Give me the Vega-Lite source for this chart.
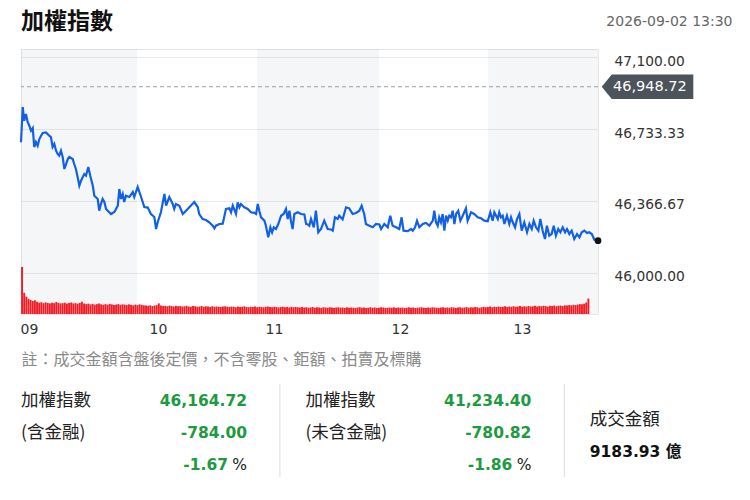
{
  "$schema": "https://vega.github.io/schema/vega-lite/v6.json",
  "background": "#ffffff",
  "padding": {"left": 16, "top": 10, "right": 0, "bottom": 0},
  "bounds": "flush",
  "spacing": 70,
  "config": {"font": "Noto Sans CJK TC", "view": {"stroke": null}},
  "datasets": {
    "bands": [{"t": 0, "t2": 54.3}, {"t": 110.4, "t2": 167.5}, {"t": 218.6, "t2": 270}],
    "prev": [{"t": 270, "v": 46948.72}],
    "close": [{"t": 270, "v": 46164.72}],
    "price": [
      {"t":0,"v":46665.6},{"t":0.8,"v":46845.4},{"t":1.5,"v":46775.6},{"t":2.3,"v":46809.7},{"t":3.1,"v":46769.0},{"t":3.9,"v":46750.1},{"t":4.7,"v":46724.7},{"t":5.5,"v":46738.4},{"t":6.2,"v":46641.6},{"t":7.0,"v":46667.1},{"t":7.8,"v":46648.2},{"t":8.6,"v":46682.4},{"t":9.4,"v":46699.2},{"t":10.2,"v":46712.9},{"t":11.7,"v":46716.3},{"t":13.2,"v":46699.2},{"t":14.0,"v":46692.6},{"t":14.8,"v":46641.6},{"t":15.6,"v":46656.9},{"t":16.4,"v":46622.8},{"t":17.2,"v":46606.0},{"t":17.9,"v":46597.5},{"t":18.7,"v":46622.8},{"t":19.5,"v":46590.7},{"t":20.3,"v":46529.6},{"t":21.1,"v":46555.0},{"t":21.9,"v":46580.5},{"t":22.6,"v":46590.7},{"t":24.2,"v":46580.5},{"t":24.9,"v":46555.0},{"t":25.7,"v":46529.6},{"t":26.5,"v":46488.8},{"t":27.3,"v":46444.5},{"t":28.1,"v":46470.0},{"t":28.9,"v":46488.8},{"t":29.6,"v":46504.1},{"t":30.4,"v":46495.5},{"t":31.5,"v":46539.8},{"t":32.4,"v":46495.5},{"t":33.6,"v":46444.5},{"t":34.3,"v":46393.6},{"t":35.9,"v":46376.8},{"t":36.6,"v":46317.2},{"t":37.4,"v":46351.3},{"t":38.2,"v":46376.8},{"t":39.0,"v":46361.5},{"t":39.8,"v":46325.9},{"t":40.6,"v":46317.2},{"t":42.1,"v":46300.4},{"t":43.7,"v":46310.6},{"t":45.3,"v":46342.7},{"t":46.0,"v":46427.7},{"t":46.8,"v":46376.8},{"t":47.6,"v":46402.3},{"t":48.3,"v":46361.5},{"t":49.1,"v":46393.6},{"t":50.7,"v":46387.0},{"t":52.3,"v":46412.4},{"t":53.0,"v":46387.0},{"t":54.6,"v":46437.9},{"t":55.4,"v":46412.4},{"t":56.2,"v":46387.0},{"t":57.7,"v":46336.0},{"t":59.3,"v":46333.2},{"t":60.8,"v":46300.4},{"t":62.4,"v":46285.1},{"t":63.2,"v":46224.0},{"t":64.0,"v":46259.7},{"t":65.5,"v":46310.6},{"t":67.1,"v":46402.3},{"t":67.9,"v":46342.7},{"t":69.4,"v":46387.0},{"t":71.0,"v":46351.3},{"t":71.7,"v":46325.9},{"t":72.5,"v":46351.3},{"t":74.1,"v":46342.7},{"t":75.7,"v":46300.4},{"t":78.0,"v":46325.9},{"t":81.1,"v":46361.5},{"t":82.7,"v":46336.0},{"t":83.4,"v":46300.4},{"t":85.0,"v":46274.9},{"t":86.6,"v":46269.8},{"t":88.1,"v":46258.1},{"t":89.7,"v":46240.8},{"t":90.5,"v":46227.6},{"t":91.2,"v":46240.8},{"t":92.8,"v":46249.5},{"t":94.4,"v":46251.2},{"t":95.9,"v":46325.9},{"t":97.5,"v":46329.4},{"t":98.3,"v":46309.1},{"t":99.1,"v":46342.7},{"t":100.6,"v":46300.4},{"t":101.4,"v":46360.0},{"t":102.2,"v":46334.5},{"t":102.9,"v":46351.3},{"t":104.5,"v":46334.5},{"t":106.1,"v":46325.9},{"t":107.6,"v":46309.1},{"t":109.2,"v":46306.3},{"t":110.0,"v":46300.4},{"t":110.8,"v":46351.3},{"t":111.5,"v":46317.2},{"t":112.3,"v":46283.6},{"t":113.9,"v":46266.3},{"t":114.6,"v":46240.8},{"t":115.7,"v":46181.7},{"t":116.7,"v":46232.7},{"t":117.5,"v":46207.2},{"t":118.3,"v":46232.7},{"t":119.3,"v":46224.0},{"t":120.4,"v":46249.5},{"t":121.7,"v":46291.7},{"t":122.9,"v":46300.4},{"t":124.0,"v":46325.9},{"t":124.8,"v":46275.0},{"t":125.6,"v":46317.2},{"t":126.3,"v":46266.3},{"t":127.1,"v":46224.0},{"t":127.9,"v":46300.4},{"t":129.5,"v":46309.1},{"t":131.0,"v":46300.4},{"t":132.6,"v":46297.8},{"t":133.4,"v":46249.5},{"t":134.2,"v":46246.9},{"t":134.9,"v":46240.8},{"t":135.7,"v":46275.0},{"t":137.0,"v":46232.7},{"t":138.0,"v":46317.2},{"t":139.1,"v":46207.2},{"t":140.4,"v":46224.0},{"t":141.9,"v":46266.3},{"t":143.5,"v":46224.0},{"t":145.1,"v":46221.4},{"t":145.9,"v":46215.4},{"t":146.9,"v":46283.6},{"t":148.2,"v":46275.0},{"t":148.9,"v":46291.7},{"t":150.5,"v":46273.2},{"t":152.1,"v":46334.5},{"t":153.6,"v":46329.4},{"t":155.2,"v":46300.4},{"t":156.8,"v":46305.5},{"t":158.3,"v":46317.2},{"t":159.4,"v":46342.7},{"t":160.6,"v":46300.4},{"t":161.4,"v":46249.5},{"t":163.0,"v":46240.8},{"t":164.6,"v":46232.7},{"t":166.1,"v":46249.5},{"t":167.7,"v":46246.9},{"t":168.5,"v":46224.0},{"t":170.0,"v":46249.5},{"t":171.6,"v":46232.7},{"t":172.8,"v":46291.7},{"t":173.9,"v":46240.8},{"t":175.5,"v":46232.7},{"t":177.0,"v":46224.0},{"t":178.1,"v":46283.6},{"t":179.0,"v":46215.4},{"t":181.0,"v":46213.0},{"t":182.5,"v":46224.0},{"t":183.3,"v":46215.4},{"t":184.4,"v":46232.7},{"t":185.3,"v":46266.3},{"t":186.4,"v":46232.7},{"t":188.0,"v":46249.5},{"t":189.5,"v":46254.6},{"t":191.1,"v":46240.8},{"t":192.7,"v":46266.3},{"t":193.4,"v":46317.2},{"t":194.2,"v":46258.1},{"t":195.0,"v":46240.8},{"t":195.7,"v":46283.6},{"t":196.5,"v":46258.1},{"t":197.3,"v":46300.4},{"t":198.1,"v":46215.4},{"t":198.9,"v":46291.7},{"t":199.7,"v":46266.3},{"t":200.4,"v":46291.7},{"t":201.2,"v":46283.6},{"t":202.0,"v":46317.2},{"t":202.8,"v":46249.5},{"t":203.6,"v":46300.4},{"t":204.6,"v":46317.2},{"t":205.6,"v":46266.3},{"t":206.7,"v":46291.7},{"t":208.2,"v":46329.4},{"t":209.0,"v":46266.3},{"t":210.6,"v":46309.1},{"t":212.1,"v":46300.4},{"t":213.7,"v":46283.6},{"t":215.3,"v":46278.5},{"t":216.8,"v":46266.3},{"t":218.4,"v":46263.8},{"t":219.6,"v":46309.1},{"t":220.7,"v":46266.3},{"t":221.5,"v":46309.1},{"t":223.1,"v":46275.0},{"t":223.8,"v":46309.1},{"t":224.6,"v":46283.6},{"t":225.4,"v":46291.7},{"t":226.2,"v":46249.5},{"t":227.4,"v":46291.7},{"t":228.5,"v":46249.5},{"t":229.3,"v":46283.6},{"t":230.1,"v":46258.1},{"t":231.2,"v":46232.7},{"t":232.1,"v":46275.0},{"t":233.2,"v":46300.4},{"t":234.3,"v":46215.4},{"t":235.5,"v":46258.1},{"t":236.8,"v":46207.2},{"t":237.9,"v":46249.5},{"t":239.0,"v":46224.0},{"t":239.9,"v":46266.3},{"t":241.0,"v":46232.7},{"t":242.1,"v":46215.4},{"t":243.0,"v":46275.0},{"t":244.1,"v":46215.4},{"t":245.2,"v":46173.1},{"t":246.1,"v":46240.8},{"t":247.2,"v":46189.9},{"t":248.3,"v":46198.5},{"t":249.3,"v":46240.8},{"t":250.3,"v":46189.9},{"t":251.4,"v":46224.0},{"t":252.4,"v":46207.2},{"t":253.5,"v":46232.7},{"t":254.6,"v":46207.2},{"t":255.5,"v":46224.0},{"t":256.6,"v":46198.5},{"t":257.7,"v":46215.4},{"t":258.9,"v":46173.1},{"t":260.2,"v":46198.5},{"t":261.3,"v":46181.7},{"t":262.4,"v":46207.2},{"t":263.6,"v":46215.4},{"t":264.9,"v":46203.6},{"t":265.9,"v":46207.2},{"t":267.1,"v":46198.5},{"t":268.3,"v":46169.5},{"t":270,"v":46164.72}
    ],
    "vol": [
      {"t":0,"q":195},{"t":1,"q":88},{"t":2,"q":72},{"t":3,"q":63},{"t":4,"q":58},{"t":5,"q":54},{"t":6,"q":57},{"t":7,"q":51},{"t":8,"q":47},{"t":9,"q":49},{"t":10,"q":45},{"t":11,"q":48},{"t":12,"q":46},{"t":13,"q":44},{"t":14,"q":47},{"t":15,"q":45},{"t":16,"q":50},{"t":17,"q":46},{"t":18,"q":44},{"t":19,"q":45},{"t":20,"q":47},{"t":21,"q":43},{"t":22,"q":46},{"t":23,"q":48},{"t":24,"q":44},{"t":25,"q":45},{"t":26,"q":43},{"t":27,"q":46},{"t":28,"q":51},{"t":29,"q":44},{"t":30,"q":41},{"t":31,"q":43},{"t":32,"q":40},{"t":33,"q":42},{"t":34,"q":39},{"t":35,"q":41},{"t":36,"q":44},{"t":37,"q":40},{"t":38,"q":38},{"t":39,"q":41},{"t":40,"q":39},{"t":41,"q":42},{"t":42,"q":40},{"t":43,"q":37},{"t":44,"q":39},{"t":45,"q":41},{"t":46,"q":38},{"t":47,"q":40},{"t":48,"q":39},{"t":49,"q":37},{"t":50,"q":40},{"t":51,"q":38},{"t":52,"q":36},{"t":53,"q":39},{"t":54,"q":37},{"t":55,"q":40},{"t":56,"q":38},{"t":57,"q":36},{"t":58,"q":35},{"t":59,"q":34},{"t":60,"q":36},{"t":61,"q":33},{"t":62,"q":35},{"t":63,"q":37},{"t":64,"q":44},{"t":65,"q":35},{"t":66,"q":33},{"t":67,"q":34},{"t":68,"q":32},{"t":69,"q":35},{"t":70,"q":33},{"t":71,"q":31},{"t":72,"q":34},{"t":73,"q":32},{"t":74,"q":33},{"t":75,"q":31},{"t":76,"q":32},{"t":77,"q":34},{"t":78,"q":31},{"t":79,"q":30},{"t":80,"q":33},{"t":81,"q":32},{"t":82,"q":30},{"t":83,"q":31},{"t":84,"q":33},{"t":85,"q":30},{"t":86,"q":32},{"t":87,"q":31},{"t":88,"q":29},{"t":89,"q":32},{"t":90,"q":30},{"t":91,"q":31},{"t":92,"q":30},{"t":93,"q":29},{"t":94,"q":31},{"t":95,"q":32},{"t":96,"q":30},{"t":97,"q":29},{"t":98,"q":31},{"t":99,"q":30},{"t":100,"q":28},{"t":101,"q":31},{"t":102,"q":29},{"t":103,"q":30},{"t":104,"q":32},{"t":105,"q":29},{"t":106,"q":28},{"t":107,"q":30},{"t":108,"q":29},{"t":109,"q":31},{"t":110,"q":28},{"t":111,"q":30},{"t":112,"q":29},{"t":113,"q":28},{"t":114,"q":30},{"t":115,"q":31},{"t":116,"q":29},{"t":117,"q":28},{"t":118,"q":30},{"t":119,"q":29},{"t":120,"q":27},{"t":121,"q":29},{"t":122,"q":30},{"t":123,"q":28},{"t":124,"q":29},{"t":125,"q":27},{"t":126,"q":30},{"t":127,"q":28},{"t":128,"q":29},{"t":129,"q":28},{"t":130,"q":27},{"t":131,"q":29},{"t":132,"q":27},{"t":133,"q":28},{"t":134,"q":26},{"t":135,"q":27},{"t":136,"q":29},{"t":137,"q":26},{"t":138,"q":28},{"t":139,"q":27},{"t":140,"q":25},{"t":141,"q":28},{"t":142,"q":27},{"t":143,"q":26},{"t":144,"q":28},{"t":145,"q":27},{"t":146,"q":25},{"t":147,"q":27},{"t":148,"q":28},{"t":149,"q":26},{"t":150,"q":27},{"t":151,"q":25},{"t":152,"q":28},{"t":153,"q":26},{"t":154,"q":27},{"t":155,"q":26},{"t":156,"q":25},{"t":157,"q":27},{"t":158,"q":28},{"t":159,"q":26},{"t":160,"q":27},{"t":161,"q":25},{"t":162,"q":26},{"t":163,"q":28},{"t":164,"q":26},{"t":165,"q":27},{"t":166,"q":25},{"t":167,"q":26},{"t":168,"q":28},{"t":169,"q":27},{"t":170,"q":25},{"t":171,"q":26},{"t":172,"q":27},{"t":173,"q":26},{"t":174,"q":28},{"t":175,"q":25},{"t":176,"q":27},{"t":177,"q":26},{"t":178,"q":27},{"t":179,"q":25},{"t":180,"q":26},{"t":181,"q":28},{"t":182,"q":26},{"t":183,"q":27},{"t":184,"q":25},{"t":185,"q":26},{"t":186,"q":27},{"t":187,"q":28},{"t":188,"q":26},{"t":189,"q":25},{"t":190,"q":27},{"t":191,"q":26},{"t":192,"q":28},{"t":193,"q":27},{"t":194,"q":26},{"t":195,"q":25},{"t":196,"q":27},{"t":197,"q":28},{"t":198,"q":26},{"t":199,"q":27},{"t":200,"q":26},{"t":201,"q":28},{"t":202,"q":27},{"t":203,"q":25},{"t":204,"q":27},{"t":205,"q":28},{"t":206,"q":26},{"t":207,"q":27},{"t":208,"q":29},{"t":209,"q":26},{"t":210,"q":28},{"t":211,"q":27},{"t":212,"q":29},{"t":213,"q":28},{"t":214,"q":26},{"t":215,"q":28},{"t":216,"q":30},{"t":217,"q":28},{"t":218,"q":29},{"t":219,"q":31},{"t":220,"q":28},{"t":221,"q":30},{"t":222,"q":29},{"t":223,"q":31},{"t":224,"q":29},{"t":225,"q":30},{"t":226,"q":32},{"t":227,"q":29},{"t":228,"q":31},{"t":229,"q":30},{"t":230,"q":32},{"t":231,"q":30},{"t":232,"q":31},{"t":233,"q":33},{"t":234,"q":30},{"t":235,"q":32},{"t":236,"q":31},{"t":237,"q":33},{"t":238,"q":31},{"t":239,"q":32},{"t":240,"q":34},{"t":241,"q":31},{"t":242,"q":33},{"t":243,"q":32},{"t":244,"q":34},{"t":245,"q":33},{"t":246,"q":31},{"t":247,"q":34},{"t":248,"q":33},{"t":249,"q":35},{"t":250,"q":32},{"t":251,"q":34},{"t":252,"q":35},{"t":253,"q":33},{"t":254,"q":36},{"t":255,"q":35},{"t":256,"q":37},{"t":257,"q":36},{"t":258,"q":38},{"t":259,"q":37},{"t":260,"q":39},{"t":261,"q":41},{"t":262,"q":40},{"t":263,"q":43},{"t":264,"q":48},{"t":265,"q":64}
    ],
    "stats": [
      {"col": 0, "row": 1, "name": "加權指數", "value": "46,164.72"},
      {"col": 0, "row": 2, "name": "(含金融)", "value": "-784.00"},
      {"col": 0, "row": 3, "value": "-1.67", "unit": "%"},
      {"col": 1, "row": 1, "name": "加權指數", "value": "41,234.40"},
      {"col": 1, "row": 2, "name": "(未含金融)", "value": "-780.82"},
      {"col": 1, "row": 3, "value": "-1.86", "unit": "%"},
      {"col": 2, "row": 1.6, "name": "成交金額"},
      {"col": 2, "row": 2.6, "value": "9183.93 億"}
    ]
  },
  "vconcat": [
    {
      "width": 577,
      "height": 265,
      "view": {"stroke": "#e6e6e6"},
      "title": {"text": "加權指數", "anchor": "start", "frame": "group", "font": "Noto Sans CJK TC", "fontSize": 23, "fontWeight": "bold", "color": "#111111", "offset": -20},
      "resolve": {"scale": {"y": "independent"}},
      "layer": [
        {
          "data": {"name": "bands"},
          "mark": {"type": "rect", "fill": "#051e50", "opacity": 0.04},
          "encoding": {
            "x": {"field": "t", "type": "quantitative", "scale": {"domain": [0, 270], "nice": false, "zero": false, "padding": 0},
              "axis": {
                "values": [3.7, 64.1, 118.4, 177.3, 234.4],
                "labelExpr": "datum.value < 30 ? '09' : datum.value < 90 ? '10' : datum.value < 150 ? '11' : datum.value < 210 ? '12' : '13'",
                "labelFont": "DejaVu Sans", "labelFontSize": 14, "labelColor": "#333333", "labelPadding": 8,
                "labelFlush": false, "labelOverlap": false,
                "ticks": false, "tickSize": 0, "domain": false, "grid": false,
                "title": "註：成交金額含盤後定價，不含零股、鉅額、拍賣及標購",
                "titleX": 0, "titleY": 45, "titleAlign": "left", "titleBaseline": "middle", "titleAngle": 0,
                "titleFont": "Noto Sans CJK TC", "titleFontSize": 16, "titleFontWeight": "normal", "titleColor": "#8a8a8a"
              }
            },
            "x2": {"field": "t2"}
          }
        },
        {
          "data": {"name": "vol"},
          "mark": {"type": "bar", "color": "#f01c26", "width": 1.9, "xOffset": 1.07},
          "encoding": {
            "x": {"field": "t", "type": "quantitative", "scale": {"domain": [0, 270], "nice": false, "zero": false, "padding": 0}},
            "y": {"field": "q", "type": "quantitative", "scale": {"domain": [0, 1100], "nice": false}, "axis": null}
          }
        },
        {
          "layer": [
            {
              "data": {"name": "prev"},
              "mark": {"type": "rule", "color": "#9c9c9c", "strokeDash": [4, 3], "strokeWidth": 1},
              "encoding": {
                "y": {"field": "v", "type": "quantitative", "scale": {"domain": [45791, 47141], "nice": false, "zero": false}}
              }
            },
            {
              "data": {"name": "price"},
              "mark": {"type": "line", "color": "#1260e6", "strokeWidth": 2.2},
              "encoding": {
                "x": {"field": "t", "type": "quantitative", "scale": {"domain": [0, 270], "nice": false, "zero": false, "padding": 0}},
                "y": {"field": "v", "type": "quantitative", "scale": {"domain": [45791, 47141], "nice": false, "zero": false},
                  "axis": {
                    "orient": "right",
                    "values": [46000, 46366.67, 46733.33, 47100],
                    "format": ",.2f",
                    "labelFont": "DejaVu Sans", "labelFontSize": 13.8, "labelColor": "#333333", "labelPadding": 16,
                    "labelAlign": "left", "labelBaseline": "middle", "labelOffset": 4,
                    "ticks": false, "tickSize": 0, "domain": false, "grid": true, "gridColor": "#e9e9e9",
                    "title": "2026-09-02 13:30",
                    "titleAngle": 0, "titleX": 134, "titleY": -28, "titleAlign": "right", "titleBaseline": "middle",
                    "titleFont": "DejaVu Sans", "titleFontSize": 14, "titleFontWeight": "normal", "titleColor": "#666666"
                  }
                }
              }
            },
            {
              "data": {"name": "close"},
              "mark": {"type": "point", "filled": true, "color": "#111111", "size": 45, "opacity": 1},
              "encoding": {
                "x": {"field": "t", "type": "quantitative", "scale": {"domain": [0, 270], "nice": false, "zero": false, "padding": 0}},
                "y": {"field": "v", "type": "quantitative", "scale": {"domain": [45791, 47141], "nice": false, "zero": false}}
              }
            },
            {
              "data": {"name": "prev"},
              "mark": {"type": "point", "shape": "M-1,0L-0.78,-0.266L1,-0.266L1,0.266L-0.78,0.266Z", "filled": true, "color": "#4d535b", "size": 8390, "xOffset": 49.5, "opacity": 1},
              "encoding": {
                "x": {"field": "t", "type": "quantitative", "scale": {"domain": [0, 270], "nice": false, "zero": false, "padding": 0}},
                "y": {"field": "v", "type": "quantitative", "scale": {"domain": [45791, 47141], "nice": false, "zero": false}}
              }
            },
            {
              "data": {"name": "prev"},
              "mark": {"type": "text", "align": "left", "baseline": "middle", "dx": 15, "font": "DejaVu Sans", "fontSize": 14.5, "color": "#ffffff"},
              "encoding": {
                "x": {"field": "t", "type": "quantitative", "scale": {"domain": [0, 270], "nice": false, "zero": false, "padding": 0}},
                "y": {"field": "v", "type": "quantitative", "scale": {"domain": [45791, 47141], "nice": false, "zero": false}},
                "text": {"field": "v", "type": "quantitative", "format": ",.2f"}
              }
            }
          ]
        }
      ]
    },
    {
      "width": 711,
      "height": 93,
      "layer": [
        {
          "data": {"values": [{"col": 1}, {"col": 2}]},
          "mark": {"type": "rule", "color": "#dddddd", "xOffset": -25.5},
          "encoding": {
            "x": {"field": "col", "type": "quantitative", "scale": {"domain": [0, 2.5], "nice": false, "zero": false}, "axis": null}
          }
        },
        {
          "data": {"name": "stats"},
          "transform": [{"filter": "isValid(datum.name)"}],
          "mark": {"type": "text", "align": "left", "baseline": "middle", "font": "Noto Sans CJK TC", "fontSize": 17.5, "color": "#222222"},
          "encoding": {
            "x": {"field": "col", "type": "quantitative", "scale": {"domain": [0, 2.5], "nice": false, "zero": false}, "axis": null},
            "y": {"field": "row", "type": "quantitative", "scale": {"domain": [0.47, 3.38], "reverse": true, "nice": false, "zero": false}, "axis": null},
            "text": {"field": "name"}
          }
        },
        {
          "data": {"name": "stats"},
          "transform": [{"filter": "datum.col < 2 && datum.row < 3"}],
          "mark": {"type": "text", "align": "right", "baseline": "middle", "dx": 226, "font": "DejaVu Sans", "fontSize": 15.5, "fontWeight": "bold", "color": "#1e9a41"},
          "encoding": {
            "x": {"field": "col", "type": "quantitative", "scale": {"domain": [0, 2.5], "nice": false, "zero": false}, "axis": null},
            "y": {"field": "row", "type": "quantitative", "scale": {"domain": [0.47, 3.38], "reverse": true, "nice": false, "zero": false}, "axis": null},
            "text": {"field": "value"}
          }
        },
        {
          "data": {"name": "stats"},
          "transform": [{"filter": "datum.row == 3"}],
          "mark": {"type": "text", "align": "right", "baseline": "middle", "dx": 207, "font": "DejaVu Sans", "fontSize": 15.5, "fontWeight": "bold", "color": "#1e9a41"},
          "encoding": {
            "x": {"field": "col", "type": "quantitative", "scale": {"domain": [0, 2.5], "nice": false, "zero": false}, "axis": null},
            "y": {"field": "row", "type": "quantitative", "scale": {"domain": [0.47, 3.38], "reverse": true, "nice": false, "zero": false}, "axis": null},
            "text": {"field": "value"}
          }
        },
        {
          "data": {"name": "stats"},
          "transform": [{"filter": "datum.row == 3"}],
          "mark": {"type": "text", "align": "right", "baseline": "middle", "dx": 226, "font": "DejaVu Sans", "fontSize": 15.5, "color": "#222222"},
          "encoding": {
            "x": {"field": "col", "type": "quantitative", "scale": {"domain": [0, 2.5], "nice": false, "zero": false}, "axis": null},
            "y": {"field": "row", "type": "quantitative", "scale": {"domain": [0.47, 3.38], "reverse": true, "nice": false, "zero": false}, "axis": null},
            "text": {"field": "unit"}
          }
        },
        {
          "data": {"name": "stats"},
          "transform": [{"filter": "datum.col == 2 && isValid(datum.value)"}],
          "mark": {"type": "text", "align": "left", "baseline": "middle", "font": "'DejaVu Sans', 'Noto Sans CJK TC'", "fontSize": 15.5, "fontWeight": "bold", "color": "#111111"},
          "encoding": {
            "x": {"field": "col", "type": "quantitative", "scale": {"domain": [0, 2.5], "nice": false, "zero": false}, "axis": null},
            "y": {"field": "row", "type": "quantitative", "scale": {"domain": [0.47, 3.38], "reverse": true, "nice": false, "zero": false}, "axis": null},
            "text": {"field": "value"}
          }
        }
      ]
    }
  ]
}
